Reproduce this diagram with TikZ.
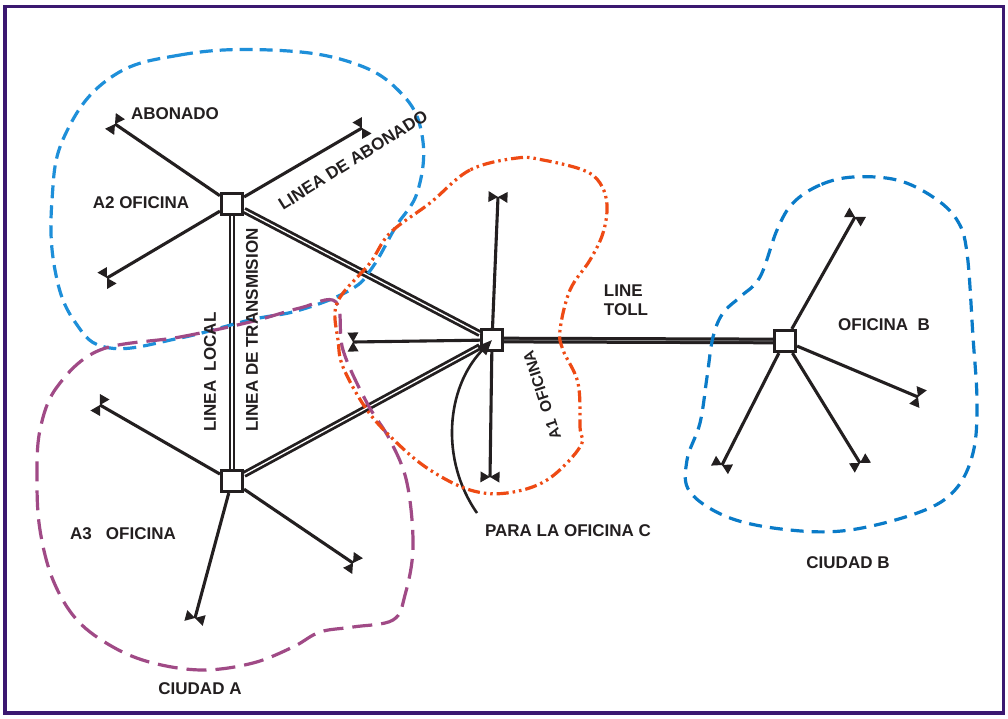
\documentclass[tikz,border=0pt]{standalone}
\usepackage{fontspec}
\setmainfont{Liberation Sans}
\usetikzlibrary{arrows.meta,decorations.markings}
\definecolor{ink}{HTML}{231F20}
\definecolor{framec}{HTML}{3B1870}
\definecolor{bluea}{HTML}{1E8FD9}
\definecolor{blueb}{HTML}{0A7BC8}
\definecolor{purpler}{HTML}{A04A86}
\definecolor{redr}{HTML}{EE4A14}
\begin{document}
\begin{tikzpicture}[x=1pt,y=-1pt,
  lbl/.style={font=\fontsize{17}{19}\selectfont\bfseries, text=ink, inner sep=0pt},
  office/.style={draw=ink, line width=3.2pt, fill=white, minimum size=21pt, inner sep=0pt},
  trunk/.style={draw=ink, line width=2.8pt, double=white, double distance=1.3pt},
  tolltrunk/.style={draw=ink, line width=3pt, double=black!45, double distance=0.7pt},
  branch/.style={draw=ink, line width=3.1pt, postaction={decorate, decoration={markings, mark=at position 1 with {\fill[ink] (-5.5,-9.5)--(5.5,-9.5)--(-5.5,9.5)--(5.5,9.5)--cycle;}}}},
  region/.style={line width=3.2pt, line cap=butt},
]
\useasboundingbox (0,0) rectangle (1008,718);
\fill[white] (0,0) rectangle (1008,718);
\draw[framec, line width=3.5pt] (5,6.5) rectangle (1003.5,713);

% offices
\node[office] (A2) at (232,204) {};
\node[office] (A3) at (232,481) {};
\node[office] (A1) at (492,340) {};
\node[office] (B) at (785,341) {};

% branch end points
\coordinate (a2ul) at (115,124);
\coordinate (a2ur) at (362,128);
\coordinate (a2ll) at (107,278);
\coordinate (a3ul) at (100,405);
\coordinate (a3d) at (195,618);
\coordinate (a3lr) at (353,563);
\coordinate (a1u) at (498,197);
\coordinate (a1l) at (353,342);
\coordinate (a1d) at (490,477);
\coordinate (bur) at (855,217);
\coordinate (br) at (918,397);
\coordinate (bdr) at (860,463);
\coordinate (bdl) at (722,465);
\coordinate (cin) at (477,513);

% trunks
\draw[trunk] (A2) -- (A3);
\draw[trunk] (A2) -- (A1);
\draw[trunk] (A3) -- (A1);
\draw[tolltrunk] (A1) -- (B);

% branches
\foreach \e in {a2ul,a2ur,a2ll} \draw[branch] (A2) -- (\e);
\foreach \e in {a3ul,a3d,a3lr} \draw[branch] (A3) -- (\e);
\foreach \e in {a1u,a1l,a1d} \draw[branch] (A1) -- (\e);
\foreach \e in {bur,br,bdr,bdl} \draw[branch] (B) -- (\e);

% incoming from office C
\draw[ink, line width=2.6pt, -{Triangle[length=15pt,width=12pt]}] (cin) .. controls (440,460) and (446,388) .. (A1.center);

% regions
\draw[region, bluea, dash pattern=on 13pt off 7pt] plot[smooth cycle, tension=0.7] coordinates {
 (110,78) (180,55) (270,50) (350,62) (400,92) (422,135) (418,190) (395,228) (372,268) (350,290) (300,310) (250,320) (180,338) (110,348) (75,322) (55,270) (52,200) (65,135)};
\draw[region, purpler, dash pattern=on 20pt off 9pt] plot[smooth cycle, tension=0.6] coordinates {
 (100,350) (180,337) (250,322) (300,308) (336,302) (343,350) (367,403) (390,440) (407,483) (413,547) (405,595) (393,620) (353,627) (320,632) (293,647) (253,663) (203,670) (153,663) (113,647) (77,620) (53,580) (40,530) (37,480) (40,430) (57,387)};
\draw[region, redr, dash pattern=on 12pt off 4pt on 2.5pt off 4pt on 2.5pt off 4pt] plot[smooth cycle, tension=0.6] coordinates {
 (517,158) (470,170) (430,203) (390,233) (370,263) (343,293) (335,312) (338,340) (343,367) (367,410) (397,443) (430,470) (470,490) (507,493) (547,480) (580,447) (580,427) (578,383) (563,350) (560,330) (570,290) (590,260) (603,233) (607,205) (600,183) (583,170) (543,160)};
\draw[region, blueb, dash pattern=on 13pt off 8pt] plot[smooth cycle, tension=0.6] coordinates {
 (853,177) (820,185) (793,203) (777,230) (760,277) (740,297) (723,313) (713,337) (707,377) (700,423) (687,460) (690,492) (730,518) (790,530) (850,530) (920,512) (955,490) (973,453) (977,403) (973,337) (967,253) (957,220) (933,197) (897,180)};

% labels
\node[lbl] (tabon) at (175,114) {ABONADO};
\node[lbl, rotate=32] (tlab) at (353,160) {LINEA DE ABONADO};
\node[lbl] (ta2) at (141,203) {A2 OFICINA};
\node[lbl, rotate=90] (ttx) at (252,330) {LINEA DE TRANSMISION};
\node[lbl, rotate=90] (tloc) at (210,372) {LINEA\ \ LOCAL};
\node[lbl] (ta3) at (123,534) {A3\ \ \ OFICINA};
\node[lbl] (tca) at (200,689) {CIUDAD A};
\node[lbl, rotate=108, font=\fontsize{15.5}{17}\selectfont\bfseries] (ta1) at (542,395) {A1\ \ OFICINA};
\node[lbl, align=left] (ttoll) at (626,300) {LINE\\TOLL};
\node[lbl] (tc) at (568,531) {PARA LA OFICINA C};
\node[lbl] (tb) at (884,325) {OFICINA\ \ B};
\node[lbl] (tcb) at (848,563) {CIUDAD B};
\end{tikzpicture}
\end{document}
